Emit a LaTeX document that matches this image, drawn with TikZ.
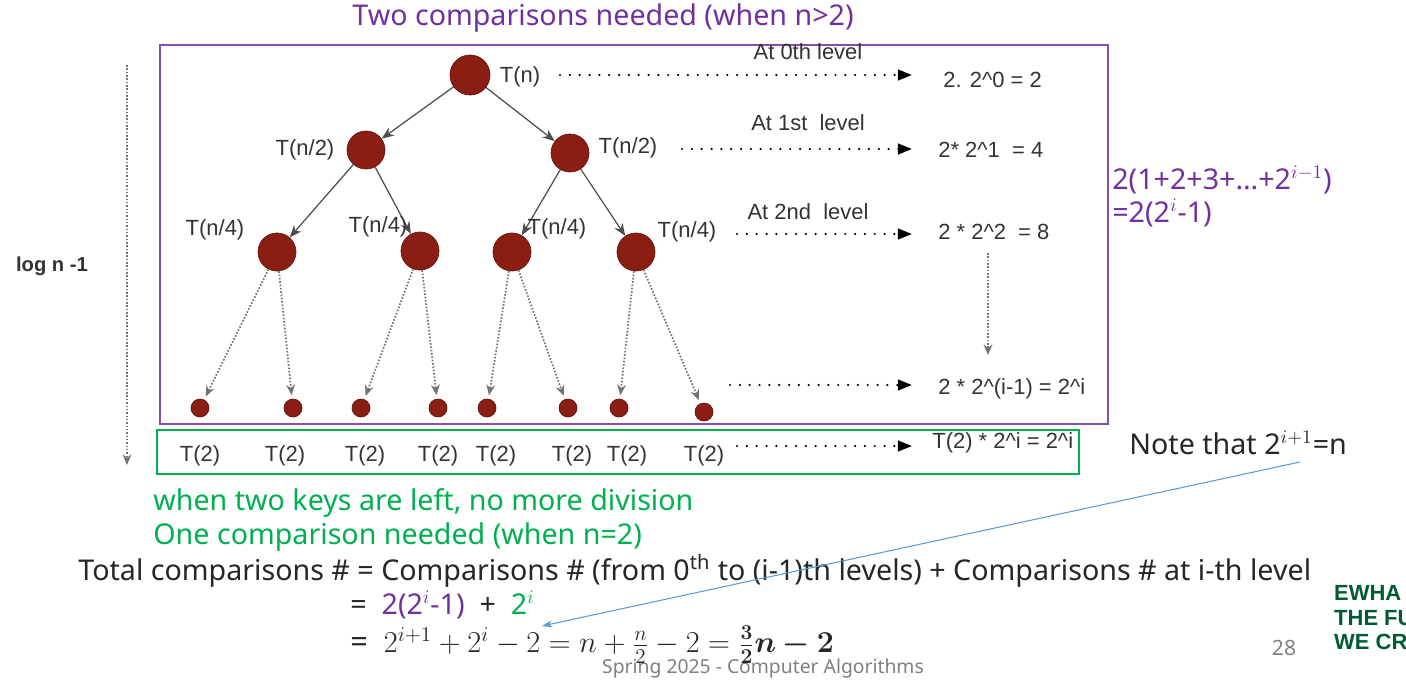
\documentclass[tikz,border=0pt]{standalone}
\usepackage{bm}
\usepackage{fontspec}
\setmainfont{Noto Sans}
\newfontfamily\treefont{Liberation Sans}
\usetikzlibrary{arrows.meta}
\definecolor{cmppurple}{RGB}{112,48,160}
\definecolor{cmpgreen}{RGB}{0,176,80}
\definecolor{dotred}{RGB}{138,30,18}
\definecolor{noteblue}{RGB}{91,155,213}
\definecolor{logogreen}{RGB}{0,90,50}
\tikzset{
  big/.style={circle,fill=dotred,draw=dotred!70!black,inner sep=0pt,minimum size=0.76cm},
  leaf/.style={circle,fill=dotred,draw=dotred!70!black,inner sep=0pt,minimum size=0.36cm},
  lbl/.style={font=\treefont\fontsize{12.5}{14}\selectfont,text=black!80,inner sep=0pt},
  slide/.style={font=\fontsize{16.3}{19}\selectfont,inner sep=0pt},
  tree edge/.style={-{Stealth[length=7pt,width=5.5pt]},draw=black!70,line width=0.7pt},
  tree dots/.style={-{Stealth[length=6pt,width=5pt]},draw=black!55,line width=1pt,dash pattern=on 0.9pt off 1pt},
  level arrow/.style={-{Triangle[length=8pt,width=6pt]},line width=1.4pt,line cap=round,dash pattern=on 0pt off 5.6pt},
  logo/.style={anchor=west,font=\treefont\bfseries\fontsize{12.5}{15}\selectfont,text=logogreen},
}
\begin{document}
\begin{tikzpicture}[x=0.02cm,y=-0.02cm]
\useasboundingbox (0,0) rectangle (1406,680);
\clip (0,0) rectangle (1406,680);
% boxes
\draw[cmppurple!85!white,line width=1.2pt] (160,45) rectangle (1108,424);
\draw[cmpgreen,line width=1.2pt] (157,430) rectangle (1079,474);
\node[slide,text=cmppurple] (title) at (603,18) {Two comparisons needed (when n>2)};
% tree
\node[big,minimum size=0.8cm] (r) at (470,75) {};
\node[big] (a) at (366,150) {};
\node[big] (b) at (570,153) {};
\node[big] (aa) at (277,252) {};
\node[big] (ab) at (420,251) {};
\node[big] (ba) at (512,252) {};
\node[big] (bb) at (636,252) {};
\foreach \x/\y [count=\i] in {200/408,293/408,361/408,438/408,487/408,568/408,619/408,704/412}
  \node[leaf] (l\i) at (\x,\y) {};
\draw[tree edge] (r) -- (a);
\draw[tree edge] (r) -- (b);
\draw[tree edge] (a) -- (aa);
\draw[tree edge] (a) -- (ab);
\draw[tree edge] (b) -- (ba);
\draw[tree edge] (b) -- (bb);
\draw[tree dots,shorten >=2pt] (aa) -- (l1);
\draw[tree dots,shorten >=2pt] (aa) -- (l2);
\draw[tree dots,shorten >=2pt] (ab) -- (l3);
\draw[tree dots,shorten >=2pt] (ab) -- (l4);
\draw[tree dots,shorten >=2pt] (ba) -- (l5);
\draw[tree dots,shorten >=2pt] (ba) -- (l6);
\draw[tree dots,shorten >=2pt] (bb) -- (l7);
\draw[tree dots,shorten >=2pt] (bb) -- (l8);
% tree labels
\node[lbl] (tn) at (520,77) {T(n)};
\node[lbl] (tn2a) at (305,150) {T(n/2)};
\node[lbl] (tn2b) at (628,148) {T(n/2)};
\node[lbl] (tn4a) at (215,230) {T(n/4)};
\node[lbl] (tn4b) at (378,227) {T(n/4)};
\node[lbl] (tn4c) at (557,229) {T(n/4)};
\node[lbl] (tn4d) at (687,232) {T(n/4)};
\foreach \x [count=\i] in {200,285,365,438,496,572,627,704}
  \node[lbl] (tt\i) at (\x,456) {T(2)};
% per level counts
\node[lbl] (at0) at (808,52) {At 0th level};
\node[lbl] (at1) at (808,123) {At 1st\ \ level};
\node[lbl] (at2) at (808,212) {At 2nd\ \ level};
\node[lbl,anchor=west] (v0) at (943,80) {2. 2\textasciicircum0 = 2};
\node[lbl,anchor=west] (v1) at (938,150) {2* 2\textasciicircum1\ \ = 4};
\node[lbl,anchor=west] (v2) at (938,232) {2 * 2\textasciicircum2\ \ = 8};
\node[lbl,anchor=west] (v3) at (938,389) {2 * 2\textasciicircum(i-1) = 2\textasciicircum i};
\node[lbl,anchor=west] (v4) at (932,443) {T(2) * 2\textasciicircum i = 2\textasciicircum i};
\coordinate (h0s) at (560,75);  \coordinate (h0e) at (912,75);
\coordinate (h1s) at (682,149); \coordinate (h1e) at (912,149);
\coordinate (h2s) at (737,234); \coordinate (h2e) at (912,234);
\coordinate (h3s) at (730,385); \coordinate (h3e) at (912,385);
\coordinate (h4s) at (737,446); \coordinate (h4e) at (912,446);
\draw[level arrow] (h0s) -- (h0e);
\draw[level arrow] (h1s) -- (h1e);
\draw[level arrow] (h2s) -- (h2e);
\draw[level arrow] (h3s) -- (h3e);
\draw[level arrow] (h4s) -- (h4e);
\coordinate (vs) at (988,253); \coordinate (ve) at (988,355);
\draw[tree dots] (vs) -- (ve);
% depth
\coordinate (ds) at (127,65); \coordinate (de) at (127,465);
\draw[tree dots] (ds) -- (de);
\node[lbl,font=\treefont\bfseries\fontsize{11.5}{14}\selectfont] (logn) at (52,266) {log n -1};
% sums on the right
\node[slide,text=cmppurple,anchor=west] (sum1) at (1112,180) {2(1+2+3+…+2$^{i-1}$)};
\node[slide,text=cmppurple,anchor=west] (sum2) at (1112,213) {=2(2$^{i}$-1)};
\node[slide,text=black!85,anchor=west] (note) at (1129,443) {Note that 2$^{i+1}$=n};
% bottom text
\node[slide,text=cmpgreen,anchor=west] (keys) at (153,503) {when two keys are left, no more division};
\node[slide,text=cmpgreen,anchor=west] (one) at (153,537) {One comparison needed (when n=2)};
\node[font=\fontsize{11}{13}\selectfont,text=black!50] (foot) at (763,668) {Spring 2025 - Computer Algorithms};
\node[font=\fontsize{12}{14}\selectfont,text=black!50] (page) at (1284,648) {28};
\node[slide,text=black!85,anchor=west] (tot) at (78,571) {Total comparisons \# = Comparisons \# (from 0\textsuperscript{th} to (i-1)th levels) + Comparisons \# at i-th level};
\node[slide,text=black!85,anchor=west] (eq1) at (350,605) {= \ \textcolor{cmppurple}{2(2$^{i}$-1)} \ + \ \textcolor{cmpgreen}{2$^{i}$}};
\node[slide,font=\fontsize{17.5}{20}\selectfont,text=black!85,anchor=west] (eq2) at (350,645) {= \ $2^{i+1}+2^{i}-2=n+\frac{n}{2}-2=\bm{\frac{3}{2}n-2}$};
\coordinate (nb) at (1300,462);
\coordinate (nt) at (542,626);
\draw[noteblue,line width=0.6pt,-{Stealth[length=6pt,width=4pt]}] (nb) -- (nt);
% logo
\node[logo] (ewha1) at (1328,593) {EWHA};
\node[logo] (ewha2) at (1328,618) {THE FUTURE};
\node[logo] (ewha3) at (1328,642) {WE CREATE};
\end{tikzpicture}
\end{document}
